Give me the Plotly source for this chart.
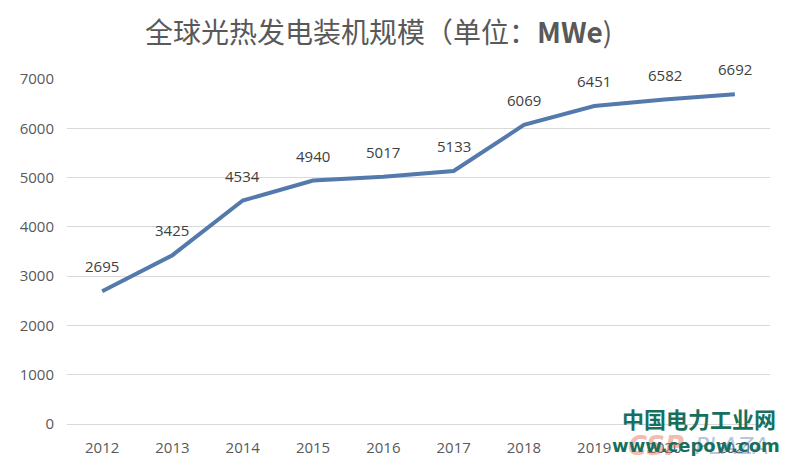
import plotly.graph_objects as go

years = ["2012", "2013", "2014", "2015", "2016", "2017", "2018", "2019", "2020", "2021"]
capacity = [2695, 3425, 4534, 4940, 5017, 5133, 6069, 6451, 6582, 6692]
y_ticks = [0, 1000, 2000, 3000, 4000, 5000, 6000, 7000]
title_text = "全球光热发电装机规模（单位：<b>MWe</b>)"
watermark_cn = "中国电力工业网"
watermark_url = "www.cepow.com"

fig = go.Figure()
fig.add_trace(go.Scatter(
    x=years, y=capacity, mode="lines",
    line=dict(color="#5479AC", width=4),
    hoverinfo="x+y",
))

for i, v in enumerate(capacity):
    fig.add_annotation(x=i, y=v, text=str(v), showarrow=False, yshift=25,
                       font=dict(family="Open Sans, Liberation Sans", size=15, color="#404040"))

fig.add_annotation(xref="paper", yref="paper", x=(377 - 65) / 705, y=(424 - 31) / 345, text=title_text,
                   showarrow=False, xanchor="center", yanchor="middle",
                   font=dict(family="Noto Sans CJK SC", size=28, color="#595959"))

# faint background watermark
fig.add_annotation(xref="paper", yref="paper", x=(656 - 65) / 705, y=(424 - 446) / 345, text="<i><b>CSP</b></i>",
                   showarrow=False, xanchor="center", yanchor="middle",
                   font=dict(family="DejaVu Sans", size=26, color="rgba(235,120,100,0.5)"))
fig.add_annotation(xref="paper", yref="paper", x=(732 - 65) / 705, y=(424 - 446) / 345, text="<i>PLAZA</i>",
                   showarrow=False, xanchor="center", yanchor="middle",
                   font=dict(family="DejaVu Sans", size=23, color="rgba(110,140,200,0.5)"))

fig.add_annotation(xref="paper", yref="paper", x=1.012, y=0.017, text="<b>" + watermark_cn + "</b>",
                   showarrow=False, xanchor="right", yanchor="middle",
                   font=dict(family="Noto Sans CJK SC", size=22, color="#17705E"))
fig.add_annotation(xref="paper", yref="paper", x=1.017, y=-0.061, text="<b>" + watermark_url + "</b>",
                   showarrow=False, xanchor="right", yanchor="middle",
                   font=dict(family="DejaVu Sans", size=18, color="#17705E"))

fig.update_layout(
    width=796, height=474,
    margin=dict(l=57, r=34, t=71, b=58),
    paper_bgcolor="white", plot_bgcolor="white",
    showlegend=False,
    xaxis=dict(type="category", range=[-0.5, 9.5], showgrid=False, showline=True, linecolor="#d9d9d9",
               ticks="", tickfont=dict(family="Open Sans, Liberation Sans", size=15, color="#595959"),
               ticklabelstandoff=10),
    yaxis=dict(range=[0, 7000], tickvals=y_ticks, showgrid=True, gridcolor="#d9d9d9",
               gridwidth=1, zeroline=False, showline=False,
               tickfont=dict(family="Open Sans, Liberation Sans", size=15, color="#595959"),
               ticklabelstandoff=12),
)

fig.write_html("out.html")
